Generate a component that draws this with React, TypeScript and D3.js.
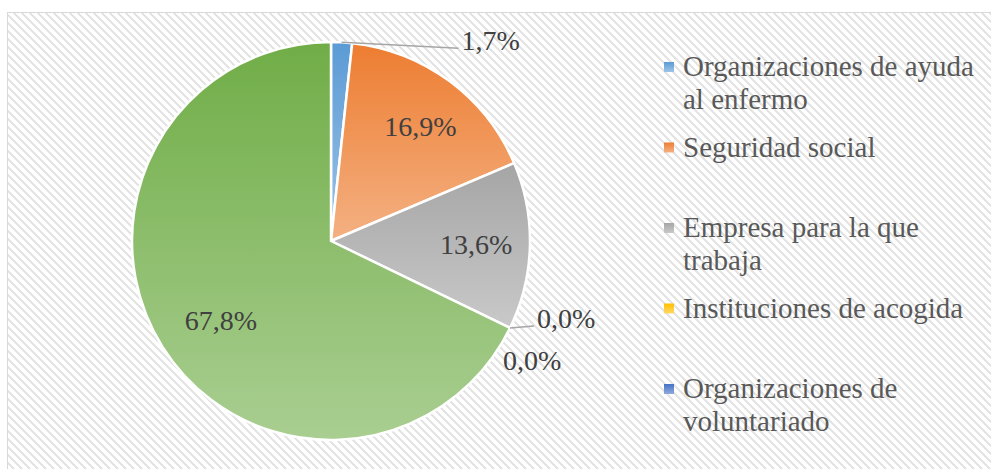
import React from "react";
import * as d3 from "d3";

// datos del gráfico
const categorias = [
  "Organizaciones de ayuda al enfermo",
  "Seguridad social",
  "Empresa para la que trabaja",
  "Instituciones de acogida",
  "Organizaciones de voluntariado",
  "Resto",
];
const valores = [1.7, 16.9, 13.6, 0.0, 0.0, 67.8];
const colores = ["#5b9bd5", "#ed7d31", "#a5a5a5", "#ffc000", "#4472c4", "#70ad47"];
// leyenda visible (las líneas tal como se cortan en la imagen)
const leyenda = [
  ["Organizaciones de ayuda", "al enfermo"],
  ["Seguridad social"],
  ["Empresa para la que", "trabaja"],
  ["Instituciones de acogida"],
  ["Organizaciones de", "voluntariado"],
];

const width = 991;
const height = 469;
const cx = 331;
const cy = 241;
const radius = 199;
const fuente = '"Liberation Serif", "Times New Roman", Times, serif';

// colocación de etiquetas: dentro (con pequeño ajuste) o fuera con desplazamiento desde el borde
const colocacion: { out: boolean; dx?: number; dy?: number; leader?: boolean }[] = [
  { out: true, dx: 120, dy: 8, leader: true },
  { out: false, dx: 3, dy: 2 },
  { out: false },
  { out: true, dx: 27, dy: 0, leader: true },
  { out: true, dx: -7, dy: 42, leader: false },
  { out: false, dx: 13, dy: 2 },
];

const fmt = (v: number) => d3.format(".1f")(v).replace(".", ",") + "%";

export default function App() {
  const pie = d3
    .pie<number>()
    .sort(null)
    .value((d) => d)
    .startAngle(0)
    .endAngle(2 * Math.PI);
  const arcs = pie(valores);
  const arc = d3.arc<d3.PieArcDatum<number>>().innerRadius(0).outerRadius(radius);
  const labelArc = d3
    .arc<d3.PieArcDatum<number>>()
    .innerRadius(radius * 0.73)
    .outerRadius(radius * 0.73);
  const edgeArc = d3.arc<d3.PieArcDatum<number>>().innerRadius(radius).outerRadius(radius);

  // patrón de diagonales (tipo Excel, 8x8)
  let hatch = "";
  for (let r = 0; r < 8; r++) {
    for (let k = 0; k < 3; k++) {
      const c = (r + k) % 8;
      hatch += `M${c},${r}h1v1h-1z`;
    }
  }

  const legX = 683;
  const legY0 = 76;
  const legStep = 80.5;
  const lineH = 33;

  return (
    <svg
      width={width}
      height={height}
      style={{ position: "absolute", left: 0, top: 0, display: "block", fontFamily: fuente }}
    >
      <defs>
        <pattern id="hatch" width={8} height={8} patternUnits="userSpaceOnUse">
          <rect width={8} height={8} fill="#ffffff" />
          <path d={hatch} fill="#e4e4e4" shapeRendering="crispEdges" />
        </pattern>
        {colores.map((c, i) => (
          <linearGradient key={i} id={`grad${i}`} x1="0" y1="0" x2="0" y2="1">
            <stop offset="0" stopColor={c} />
            <stop offset="1" stopColor={d3.interpolateRgb(c, "#ffffff")(0.4)} />
          </linearGradient>
        ))}
      </defs>
      <rect width={width} height={height} fill="#ffffff" />
      <rect
        x={7.5}
        y={12.5}
        width={width + 20}
        height={height + 20}
        fill="url(#hatch)"
        stroke="#d9d9d9"
        strokeWidth={1}
      />
      <g transform={`translate(${cx},${cy})`}>
        {arcs.map((a, i) =>
          a.value > 0 ? (
            <path
              key={categorias[i]}
              d={arc(a) || ""}
              fill={`url(#grad${i})`}
              stroke="#ffffff"
              strokeWidth={2.5}
              strokeLinejoin="round"
            />
          ) : null
        )}
        {arcs.map((a, i) => {
          const p = colocacion[i];
          if (!p.out) {
            const [x, y] = labelArc.centroid(a);
            return (
              <text
                key={"l" + i}
                x={x + (p.dx || 0)}
                y={y + (p.dy || 0)}
                textAnchor="middle"
                dominantBaseline="central"
                style={{ fontFamily: fuente, fontSize: 28 }}
                fill="#404040"
              >
                {fmt(a.value)}
              </text>
            );
          }
          const [ex, ey] = edgeArc.centroid(a);
          const lx = ex + (p.dx || 0);
          const ly = ey + (p.dy || 0);
          return (
            <g key={"l" + i}>
              {p.leader && (
                <path
                  d={`M${ex},${ey}L${lx - 3},${ly - 2}`}
                  fill="none"
                  stroke="#a6a6a6"
                  strokeWidth={1.5}
                />
              )}
              <text x={lx} y={ly} style={{ fontFamily: fuente, fontSize: 28 }} fill="#404040">
                {fmt(a.value)}
              </text>
            </g>
          );
        })}
      </g>
      <g style={{ fontFamily: fuente, fontSize: 29 }} fill="#595959">
        {leyenda.map((lines, i) => {
          const y = legY0 + i * legStep;
          return (
            <g key={categorias[i]}>
              <rect
                x={legX - 19}
                y={y - 14}
                width={10}
                height={10}
                fill={`url(#grad${i})`}
              />
              {lines.map((t, j) => (
                <text key={j} x={legX} y={y + j * lineH}>
                  {t}
                </text>
              ))}
            </g>
          );
        })}
      </g>
    </svg>
  );
}
